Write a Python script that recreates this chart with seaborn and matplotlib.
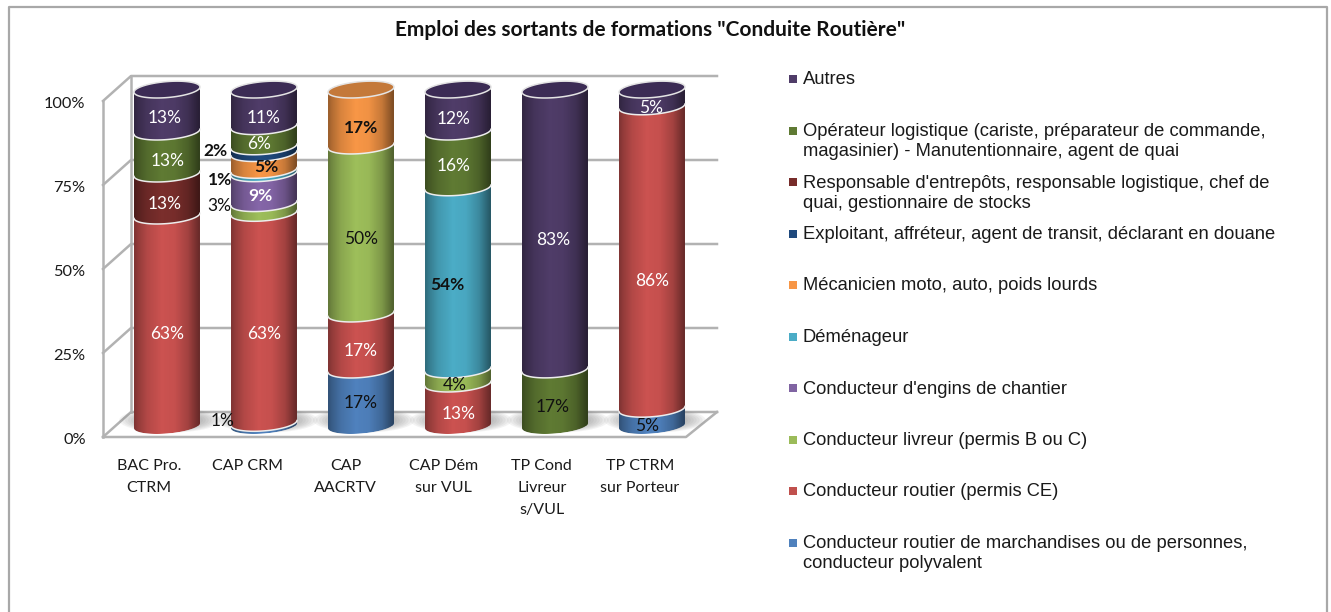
import numpy as np
import pandas as pd
import matplotlib
matplotlib.use("Agg")
import matplotlib.pyplot as plt
from matplotlib.patches import PathPatch, Rectangle
from matplotlib.path import Path
from matplotlib.lines import Line2D
from matplotlib.transforms import ScaledTranslation
import seaborn as sns

categories = ["BAC Pro.\nCTRM", "CAP CRM", "CAP\nAACRTV", "CAP Dém\nsur VUL", "TP Cond\nLivreur\ns/VUL", "TP CTRM\nsur Porteur"]

s_polyvalent = [0, 0.8, 16.67, 0, 0, 5.0]
s_routier = [62.5, 62.5, 16.67, 12.5, 0, 90.0]
s_livreur = [0, 2.9, 50, 4.2, 0, 0]
s_engins = [0, 8.9, 0, 0, 0, 0]
s_demenageur = [0, 1.0, 0, 54.2, 0, 0]
s_mecanicien = [0, 5.0, 16.66, 0, 0, 0]
s_exploitant = [0, 2.0, 0, 0, 0, 0]
s_responsable = [12.5, 0, 0, 0, 0, 0]
s_operateur = [12.5, 6.0, 0, 16.6, 16.7, 0]
s_autres = [12.5, 10.9, 0, 12.5, 83.3, 5]

t_polyvalent = ["", "1%", "17%", "", "", "5%"]
t_routier = ["63%", "63%", "17%", "13%", "", "86%"]
t_livreur = ["", "3%", "50%", "4%", "", ""]
t_engins = ["", "9%", "", "", "", ""]
t_demenageur = ["", "1%", "", "54%", "", ""]
t_mecanicien = ["", "5%", "17%", "", "", ""]
t_exploitant = ["", "2%", "", "", "", ""]
t_responsable = ["13%", "", "", "", "", ""]
t_operateur = ["13%", "6%", "", "16%", "17%", ""]
t_autres = ["13%", "11%", "", "12%", "83%", "5%"]

series_names = [
    "Conducteur routier de marchandises ou de personnes,\nconducteur polyvalent",
    "Conducteur routier (permis CE)",
    "Conducteur livreur (permis B ou C)",
    "Conducteur d'engins de chantier",
    "Déménageur",
    "Mécanicien moto, auto, poids lourds",
    "Exploitant, affréteur, agent de transit, déclarant en douane",
    "Responsable d'entrepôts, responsable logistique, chef de\nquai, gestionnaire de stocks",
    "Opérateur logistique (cariste, préparateur de commande,\nmagasinier) - Manutentionnaire, agent de quai",
    "Autres",
]
series_values = [s_polyvalent, s_routier, s_livreur, s_engins, s_demenageur,
                 s_mecanicien, s_exploitant, s_responsable, s_operateur, s_autres]
series_texts = [t_polyvalent, t_routier, t_livreur, t_engins, t_demenageur,
                t_mecanicien, t_exploitant, t_responsable, t_operateur, t_autres]
series_colors = ["#4F81BD", "#CB5250", "#9DBE5A", "#8566A8", "#4BACC6",
                 "#F79646", "#1F497D", "#7A2E2C", "#5F7A33", "#4F3C68"]
cap_colors = {9: "#3C2C55", 5: "#C4793A"}
legend_colors = ["#4F81BD", "#C0504D", "#9BBB59", "#8064A2", "#4BACC6",
                 "#F79646", "#1F497D", "#772C2A", "#5F7A33", "#4F3C68"]

# label tweaks: (series, category) -> (dx px, dy px, colour, bold)
label_style = {
    (1, 0): (0, 5, "white", False), (7, 0): (-2, 1, "white", False),
    (8, 0): (1, 0, "white", False), (9, 0): (-2, -1, "white", False),
    (0, 1): (-41, -11, "#111111", False), (1, 1): (0, 8, "white", False),
    (2, 1): (-45, -10, "#111111", False), (3, 1): (-4, 0, "white", True),
    (4, 1): (-44, 0, "#111111", True), (5, 1): (2, -2, "#111111", True),
    (6, 1): (-49, -7, "#111111", True), (8, 1): (-5, 0, "white", False),
    (9, 1): (0, 2, "white", False),
    (0, 2): (0, -3, "#111111", False), (1, 2): (0, 1, "white", False),
    (2, 2): (0, 1, "#111111", False), (5, 2): (0, 2, "#111111", True),
    (1, 3): (1, 1, "white", False), (2, 3): (-3, 0, "#111111", False),
    (4, 3): (-11, -1, "#111111", True), (8, 3): (-4, -1, "white", False),
    (9, 3): (-4, 0, "white", False),
    (8, 4): (-2, 1, "#111111", False), (9, 4): (-2, 2, "white", False),
    (0, 5): (-5, 1, "#111111", False), (1, 5): (0, 15, "white", False),
    (9, 5): (-1, 2, "white", False),
}

W, H = 1331, 612
sns.set_theme(style="white")
LAT = ["Lato", "DejaVu Sans"]
plt.rcParams["font.family"] = LAT
fig = plt.figure(figsize=(W / 100, H / 100), dpi=100)
fig.patch.set_facecolor("white")
# outer chart frame: left, top and right edges (the bottom is cut off in the picture)
fx0, fx1, fy0 = 8.5 / W, 1327 / W, 1 - 6.5 / H
fig.add_artist(Line2D([fx0, fx0, fx1, fx1], [0, fy0, fy0, 0], transform=fig.transFigure,
                      color="#A8A8A8", lw=1.6))

# axes: pixel box of the plot
L, R, T, B = 103, 717, 75, 437
ax = fig.add_axes([L / W, 1 - B / H, (R - L) / W, (B - T) / H])
ax.set_facecolor("none")

df = pd.DataFrame({"cat": np.repeat(categories, len(series_names)),
                   "series": list(range(len(series_names))) * len(categories),
                   "val": np.array(series_values).T.ravel()})
vals = np.array(series_values, dtype=float)
base = 3.4            # the cylinders stand on the floor, above the front axis
bottoms = np.vstack([np.zeros(vals.shape[1]), np.cumsum(vals, axis=0)[:-1]]) + base
width = 0.68

PXX, PXY = 97.0, 3.36
xl, xr = (L - 167) / PXX, (R - 167) / PXX
ytop = (B - T) / PXY
a = width / 2
bh, tilt = 8 / PXY, 2.6 / PXY


def arc(cx, y, start, stop, n=60):
    t = np.linspace(start, stop, n)
    return np.column_stack([cx + a * np.cos(t), y + bh * np.sin(t) + tilt * np.cos(t)])


outlines = {}
for c in range(len(categories)):
    top = base + vals[:, c].sum()
    lower = arc(c, base, np.pi, 2 * np.pi)
    upper = arc(c, top, 0, np.pi)
    poly = np.vstack([lower, upper, lower[:1]])
    outlines[c] = Path(poly, closed=True)

for i, name in enumerate(series_names):
    z = 3 + i * 0.02
    before = len(ax.patches)
    sns.barplot(data=df[df["series"] == i], x="cat", y="val", order=categories,
                bottom=bottoms[i], width=width, color=series_colors[i], saturation=1,
                errorbar=None, linewidth=0, ax=ax, zorder=z)
    for c, patch in enumerate(ax.patches[before:]):
        patch.set_clip_path(PathPatch(outlines[c], transform=ax.transData, fc="none", ec="none"))
    for c in range(len(categories)):
        if vals[i, c] <= 0:
            continue
        y0 = bottoms[i, c]
        lower = arc(c, y0, np.pi, 2 * np.pi)
        poly = np.vstack([lower, [c + a, y0 + 2 * tilt], [c - a, y0 + 2 * tilt], lower[:1]])
        pp = PathPatch(Path(poly, closed=True), fc=series_colors[i], ec="none", zorder=z + 0.001)
        ax.add_patch(pp)
        pp.set_clip_path(PathPatch(outlines[c], transform=ax.transData, fc="none", ec="none"))

# cylinder shading
u = np.linspace(0, 1, 120)
alpha = np.interp(u, [0, .06, .2, .42, .62, .82, .95, 1], [.38, .28, .12, 0, .03, .2, .42, .5])
rgba = np.zeros((1, 120, 4))
rgba[0, :, 3] = alpha
for c in range(len(categories)):
    im = ax.imshow(rgba, extent=[c - a, c + a, 0, 112], aspect="auto", zorder=4, interpolation="bilinear")
    im.set_clip_path(PathPatch(outlines[c], transform=ax.transData, fc="none", ec="none"))

# white seams and top caps
for c in range(len(categories)):
    for i in range(len(series_names)):
        if vals[i, c] > 0 and bottoms[i, c] > base:
            seam = arc(c, bottoms[i, c], np.pi, 2 * np.pi)
            ax.plot(seam[:, 0], seam[:, 1], color="#EDEDED", lw=1.1, zorder=4.5)
    tops = [i for i in range(len(series_names)) if vals[i, c] > 0]
    topi = tops[-1]
    top = base + vals[:, c].sum()
    ring = arc(c, top, 0, 2 * np.pi, 120)
    ax.add_patch(PathPatch(Path(ring, closed=True), fc=cap_colors.get(topi, "#3C2C55"),
                           ec="#E4E4E4", lw=1.1, zorder=4.6))

# soft floor shadows
for c in range(len(categories)):
    for k in range(7):
        grow = 1 + k * 0.09
        t = np.linspace(0, 2 * np.pi, 80)
        xs = c + 0.03 + a * grow * np.cos(t)
        ys = base + 1.6 + bh * grow * np.sin(t)
        ax.fill(xs, ys, color="#707070", alpha=0.08, lw=0, zorder=1.5)

# 3-D walls and floor, drawn on the value scale
ticks = [0, 25, 50, 75, 100]
dx, dy = (131 - L) / PXX, (B - 412) / PXY
xfr = (686 - 167) / PXX
wall = dict(color="#B2B2B2", lw=1.8, solid_capstyle="projecting", zorder=1)
for v in ticks:
    ax.plot([xl, xl + dx, xr], [v, v + dy, v + dy], clip_on=False, **wall)
ax.plot([xl, xl], [0, 100], clip_on=False, **wall)
ax.plot([xl + dx, xl + dx], [dy, 100 + dy], clip_on=False, **wall)
ax.plot([xl, xfr, xr], [0, 0, dy], clip_on=False, **wall)

ax.set_xlim(xl, xr)
ax.set_ylim(0, ytop)
ax.set_xlabel("")
ax.set_ylabel("")
ax.set_yticks(ticks, [f"{v}%" for v in ticks])
ax.set_xticks(range(len(categories)), categories)
ax.tick_params(axis="y", length=0, pad=12.5, labelsize=11.8, labelcolor="#1A1A1A")
ax.tick_params(axis="x", length=0, pad=16, labelsize=11.5, labelcolor="#1A1A1A")
for n, lab in enumerate(ax.get_xticklabels()):
    lab.set_transform(lab.get_transform() + ScaledTranslation((-18 + n * 1.2) / 100, 0, fig.dpi_scale_trans))
    lab.set_linespacing(1.7)
    lab.set_multialignment("center")
for lab in ax.get_yticklabels():
    lab.set_transform(lab.get_transform() + ScaledTranslation(0, -1 / 100, fig.dpi_scale_trans))
sns.despine(ax=ax, left=True, bottom=True)

# data labels
for i in range(len(series_names)):
    for c in range(len(categories)):
        txt = series_texts[i][c]
        if not txt:
            continue
        ddx, ddy, col, bold = label_style.get((i, c), (0, 0, "white", False))
        ax.annotate(txt, (c, bottoms[i, c] + vals[i, c] / 2), xytext=(ddx, -8 - ddy),
                    textcoords="offset pixels", ha="center", va="center", color=col,
                    fontsize=12.5, fontweight="bold" if bold else "normal", zorder=6,
                    annotation_clip=False)

fig.text(650 / W, 1 - 30 / H, 'Emploi des sortants de formations "Conduite Routière"',
         ha="center", va="center", fontsize=15, fontweight="bold", color="#111111")

# legend, topmost series first
for pos, i in enumerate(range(len(series_names) - 1, -1, -1)):
    y = 79 + 51.5 * pos
    fig.add_artist(Rectangle((789 / W, 1 - (y + 4) / H), 8 / W, 8 / H, transform=fig.transFigure,
                             fc=legend_colors[i], ec="none"))
    fig.text(803 / W, 1 - (y - 7.5) / H, series_names[i], ha="left", va="top",
             fontsize=13.2, family=["Liberation Sans", "DejaVu Sans"], color="#1A1A1A", linespacing=1.24)

fig.savefig("out.png", dpi=100)
